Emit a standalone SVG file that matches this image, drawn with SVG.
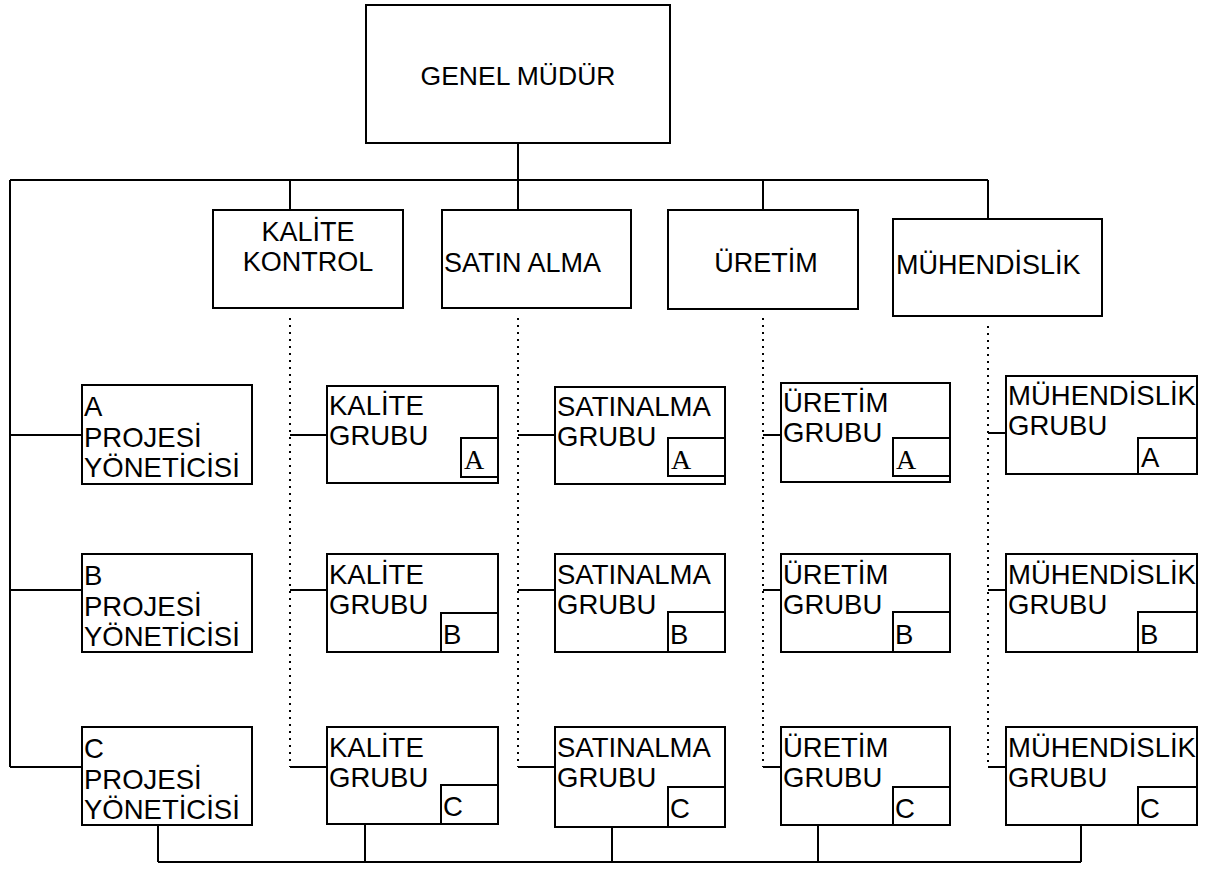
<svg xmlns="http://www.w3.org/2000/svg" width="1215" height="870" viewBox="0 0 1215 870">
<style>
.box{fill:#fff;stroke:#000;stroke-width:2}
.lbx{fill:none;stroke:#000;stroke-width:2}
.ln{fill:none;stroke:#000;stroke-width:2}
.dot{fill:none;stroke:#000;stroke-width:2;stroke-dasharray:2 5}
.t{font-family:"Liberation Sans",Arial,sans-serif;font-size:27.5px;fill:#000}
.d{font-size:27px}
.g{font-size:26.5px}
.s{font-family:"Liberation Serif","Times New Roman",serif;font-size:28px;fill:#000}
.m{text-anchor:middle}
</style>
<rect width="1215" height="870" fill="#fff"/>
<g id="connectors">
<path class="ln" d="M518 143V215M10 180H988M10 180V767M290 180V210M763 180V210M988 180V219"/>
<path class="ln" d="M10 435H82M10 590H82M10 767H82"/>
<path class="dot" d="M290 318V767M518 318V767M763 318V767M988 326V767"/>
<path class="ln" d="M290 435H327M290 590H327M290 767H327"/>
<path class="ln" d="M518 435H555M518 590H555M518 767H555"/>
<path class="ln" d="M763 435H781M763 590H781M763 767H781"/>
<path class="ln" d="M988 433H1006M988 590H1006M988 767H1006"/>
<path class="ln" d="M158 825V862M365 824V862M612 827V862M818 825V862M1081 825V862M158 862H1081"/>
</g>
<g id="genel-mudur"><rect class="box" x="366" y="5" width="304" height="138"/><text class="t g m" x="518" y="85">GENEL MÜDÜR</text></g>
<g id="kalite-kontrol"><rect class="box" x="213" y="210" width="190" height="98"/><text class="t d m" x="308" y="241">KALİTE</text><text class="t d m" x="308" y="271">KONTROL</text></g>
<g id="satin-alma"><rect class="box" x="442" y="210" width="189" height="98"/><text class="t d" x="444" y="272">SATIN ALMA</text></g>
<g id="uretim"><rect class="box" x="668" y="210" width="190" height="99"/><text class="t d m" x="766" y="272">ÜRETİM</text></g>
<g id="muhendislik"><rect class="box" x="893" y="219" width="209" height="97"/><text class="t d" x="896" y="274">MÜHENDİSLİK</text></g>

<g id="pm-a"><rect class="box" x="82" y="385" width="170" height="99"/><text class="t" x="84" y="416">A</text><text class="t" x="84" y="447">PROJESİ</text><text class="t" x="84" y="477">YÖNETİCİSİ</text></g>
<g id="pm-b"><rect class="box" x="82" y="554" width="170" height="98"/><text class="t" x="84" y="585">B</text><text class="t" x="84" y="616">PROJESİ</text><text class="t" x="84" y="646">YÖNETİCİSİ</text></g>
<g id="pm-c"><rect class="box" x="82" y="727" width="170" height="98"/><text class="t" x="84" y="758">C</text><text class="t" x="84" y="789">PROJESİ</text><text class="t" x="84" y="819">YÖNETİCİSİ</text></g>

<g id="kalite-a"><rect class="box" x="327" y="386" width="171" height="97"/><text class="t" x="329" y="415">KALİTE</text><text class="t" x="329" y="445">GRUBU</text><rect class="lbx" x="461" y="438" width="37" height="39"/><text class="s" x="464" y="469">A</text></g>
<g id="kalite-b"><rect class="box" x="327" y="554" width="171" height="98"/><text class="t" x="329" y="584">KALİTE</text><text class="t" x="329" y="614">GRUBU</text><rect class="lbx" x="441" y="613" width="57" height="39"/><text class="t" x="443" y="644">B</text></g>
<g id="kalite-c"><rect class="box" x="327" y="727" width="171" height="97"/><text class="t" x="329" y="757">KALİTE</text><text class="t" x="329" y="787">GRUBU</text><rect class="lbx" x="441" y="785" width="57" height="39"/><text class="t" x="443" y="816">C</text></g>

<g id="satinalma-a"><rect class="box" x="555" y="387" width="170" height="97"/><text class="t" x="557" y="416">SATINALMA</text><text class="t" x="557" y="446">GRUBU</text><rect class="lbx" x="668" y="438" width="57" height="38"/><text class="s" x="671" y="469">A</text></g>
<g id="satinalma-b"><rect class="box" x="555" y="554" width="170" height="98"/><text class="t" x="557" y="584">SATINALMA</text><text class="t" x="557" y="614">GRUBU</text><rect class="lbx" x="668" y="612" width="57" height="40"/><text class="t" x="670" y="644">B</text></g>
<g id="satinalma-c"><rect class="box" x="555" y="727" width="170" height="100"/><text class="t" x="557" y="757">SATINALMA</text><text class="t" x="557" y="787">GRUBU</text><rect class="lbx" x="668" y="787" width="57" height="40"/><text class="t" x="670" y="818">C</text></g>

<g id="uretim-a"><rect class="box" x="781" y="383" width="169" height="99"/><text class="t" x="783" y="412">ÜRETİM</text><text class="t" x="783" y="442">GRUBU</text><rect class="lbx" x="893" y="438" width="57" height="38"/><text class="s" x="896" y="469">A</text></g>
<g id="uretim-b"><rect class="box" x="781" y="554" width="169" height="98"/><text class="t" x="783" y="584">ÜRETİM</text><text class="t" x="783" y="614">GRUBU</text><rect class="lbx" x="893" y="612" width="57" height="40"/><text class="t" x="895" y="644">B</text></g>
<g id="uretim-c"><rect class="box" x="781" y="727" width="169" height="98"/><text class="t" x="783" y="757">ÜRETİM</text><text class="t" x="783" y="787">GRUBU</text><rect class="lbx" x="893" y="787" width="57" height="38"/><text class="t" x="895" y="818">C</text></g>

<g id="muhendislik-a"><rect class="box" x="1006" y="376" width="191" height="98"/><text class="t" x="1008" y="405">MÜHENDİSLİK</text><text class="t" x="1008" y="435">GRUBU</text><rect class="lbx" x="1138" y="438" width="59" height="36"/><text class="t" x="1141" y="467">A</text></g>
<g id="muhendislik-b"><rect class="box" x="1006" y="554" width="191" height="98"/><text class="t" x="1008" y="584">MÜHENDİSLİK</text><text class="t" x="1008" y="614">GRUBU</text><rect class="lbx" x="1138" y="612" width="59" height="40"/><text class="t" x="1140" y="644">B</text></g>
<g id="muhendislik-c"><rect class="box" x="1006" y="727" width="191" height="98"/><text class="t" x="1008" y="757">MÜHENDİSLİK</text><text class="t" x="1008" y="787">GRUBU</text><rect class="lbx" x="1138" y="787" width="59" height="38"/><text class="t" x="1140" y="818">C</text></g>
</svg>
